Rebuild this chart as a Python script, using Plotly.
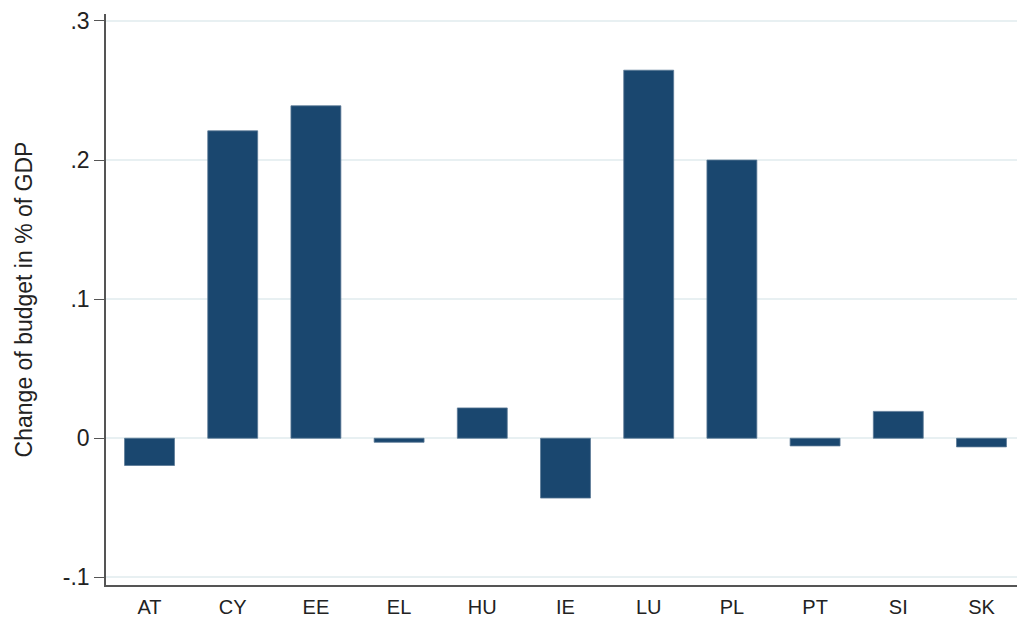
import plotly.graph_objects as go

countries = ["AT", "CY", "EE", "EL", "HU", "IE", "LU", "PL", "PT", "SI", "SK"]
budget_change = [-0.0196, 0.221, 0.239, -0.0029, 0.0218, -0.043, 0.2646, 0.200, -0.0055, 0.0193, -0.0062]
y_ticks = [-0.1, 0, 0.1, 0.2, 0.3]
y_tick_labels = ["-.1", "0", ".1", ".2", ".3"]

fig = go.Figure(go.Bar(
    x=list(range(len(countries))),
    y=budget_change,
    width=0.6,
    marker=dict(color="#1a476f", line=dict(color="#5a7896", width=0.8)),
))

# page has 8px default body margin; figure sized to fit the 1025x618 window
fig.update_layout(
    width=1017, height=610,
    margin=dict(l=98, r=0, t=4, b=33),
    paper_bgcolor="white", plot_bgcolor="white",
    font=dict(family="Liberation Sans, Arial, sans-serif", color="#222"),
    showlegend=False,
    bargap=0.4,
)
fig.update_xaxes(
    tickmode="array", tickvals=list(range(len(countries))), ticktext=countries,
    range=[-0.523, 10.523],
    showgrid=False, zeroline=False, automargin=False,
    showline=True, linecolor="#555", linewidth=1.5,
    ticks="outside", ticklen=3, tickcolor="rgba(0,0,0,0)",
    tickfont=dict(size=20, color="#222"),
)
fig.update_yaxes(
    tickmode="array", tickvals=y_ticks, ticktext=y_tick_labels,
    range=[-0.1055, 0.305],
    showgrid=True, gridcolor="#e8f0f2", gridwidth=1.5,
    zeroline=False, ticklabeloverflow="allow",
    showline=True, linecolor="#555", linewidth=1.5,
    ticks="outside", ticklen=10, tickcolor="#555", tickwidth=1.2,
    tickfont=dict(size=23, color="#222"),
    title=dict(text="Change of budget in % of GDP", font=dict(size=23, color="#222"), standoff=24),
)

fig.write_html("out.html")
